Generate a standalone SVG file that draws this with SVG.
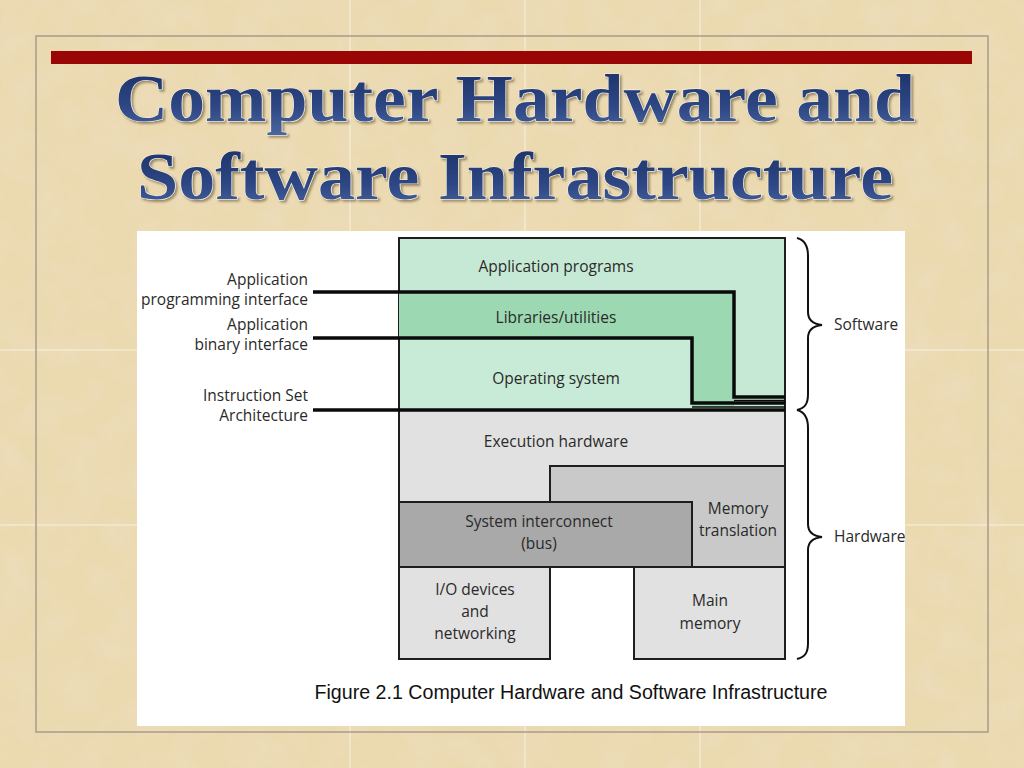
<svg xmlns="http://www.w3.org/2000/svg" width="1024" height="768" viewBox="0 0 1024 768">
<defs>
<filter id="paper" x="0" y="0" width="100%" height="100%">
<feTurbulence type="fractalNoise" baseFrequency="0.03" numOctaves="4" seed="3" result="n"/>
<feColorMatrix in="n" type="matrix" values="0 0 0 0 0.85  0 0 0 0 0.76  0 0 0 0 0.58  0 0 0 1.2 -0.45"/>
</filter>
<filter id="tshadow" x="-5%" y="-20%" width="110%" height="140%">
<feDropShadow dx="2" dy="2" stdDeviation="1" flood-color="#4a3c24" flood-opacity="0.5"/>
</filter>
<linearGradient id="tg" x1="0" y1="0" x2="0" y2="1">
<stop offset="0" stop-color="#1b2e62"/>
<stop offset="0.6" stop-color="#2d4683"/>
<stop offset="1" stop-color="#4a67a0"/>
</linearGradient>
<clipPath id="panelClip"><rect x="137" y="231" width="768" height="495"/></clipPath>
<style>
.title{font-family:"Liberation Serif","DejaVu Serif",serif;font-weight:bold;font-size:68px;text-anchor:middle;fill:url(#tg);stroke:#f4efe2;stroke-width:1.2;paint-order:stroke}
.lbl{font-family:"Open Sans","Noto Sans","DejaVu Sans",sans-serif;font-size:15.5px;fill:#2a2a2a}
.mid{text-anchor:middle}
.end{text-anchor:end}
.box{stroke:#1e1e1e;stroke-width:2}
.iface{fill:none;stroke:#0a0a0a;stroke-width:3.5}
.thin{fill:none;stroke:#0a0a0a;stroke-width:1.3}
.brace{fill:none;stroke:#111;stroke-width:2}
.seam{stroke:#f8f1e0;stroke-width:1}
</style>
</defs>
<!-- background -->
<rect x="0" y="0" width="1024" height="768" fill="#ebd9b0"/>
<rect x="0" y="0" width="1024" height="768" filter="url(#paper)" opacity="0.6"/>
<g id="seams">
<line class="seam" x1="350" y1="0" x2="350" y2="768"/>
<line class="seam" x1="525" y1="0" x2="525" y2="768"/>
<line class="seam" x1="700" y1="0" x2="700" y2="768"/>
<line class="seam" x1="0" y1="350" x2="1024" y2="350"/>
<line class="seam" x1="0" y1="525" x2="1024" y2="525"/>
</g>
<rect x="36" y="36" width="952" height="696" fill="none" stroke="#a89b8b" stroke-width="1.5"/>
<rect x="51" y="51" width="921" height="13" fill="#9a0606"/>
<!-- title -->
<g id="title" filter="url(#tshadow)">
<text class="title" x="515" y="121" textLength="800" lengthAdjust="spacingAndGlyphs">Computer Hardware and</text>
<text class="title" x="515" y="199" textLength="756" lengthAdjust="spacingAndGlyphs">Software Infrastructure</text>
</g>
<!-- figure panel -->
<rect x="137" y="231" width="768" height="495" fill="#ffffff"/>
<g clip-path="url(#panelClip)">
<g id="software">
<g id="app-programs">
<rect class="box" x="399" y="238" width="386" height="172" fill="#c6e9d5"/>
<text class="lbl mid" x="556" y="272">Application programs</text>
</g>
<g id="libraries">
<polygon points="399,292 734,292 734,407 692,407 692,338 399,338" fill="#9cd8b1"/>
<text class="lbl mid" x="556" y="323">Libraries/utilities</text>
</g>
<g id="os">
<rect x="400" y="338" width="292" height="71" fill="#c8ebd7"/>
<text class="lbl mid" x="556" y="384">Operating system</text>
</g>
</g>
<g id="hardware">
<g id="exec-hw">
<rect class="box" x="399" y="410" width="386" height="157" fill="#e1e1e1"/>
<text class="lbl mid" x="556" y="447">Execution hardware</text>
</g>
<g id="mem-translation">
<rect class="box" x="550" y="466" width="235" height="101" fill="#c9c9c9"/>
<text class="lbl mid" x="738" y="514">Memory</text>
<text class="lbl mid" x="738" y="536">translation</text>
</g>
<g id="bus">
<rect class="box" x="399" y="502" width="293" height="65" fill="#a9a9a9"/>
<text class="lbl mid" x="539" y="527">System interconnect</text>
<text class="lbl mid" x="539" y="549">(bus)</text>
</g>
<g id="io-devices">
<rect class="box" x="399" y="567" width="151" height="92" fill="#e1e1e1"/>
<text class="lbl mid" x="475" y="595">I/O devices</text>
<text class="lbl mid" x="475" y="617">and</text>
<text class="lbl mid" x="475" y="639">networking</text>
</g>
<g id="main-memory">
<rect class="box" x="634" y="567" width="151" height="92" fill="#e1e1e1"/>
<text class="lbl mid" x="710" y="606">Main</text>
<text class="lbl mid" x="710" y="629">memory</text>
</g>
</g>
<g id="connectors">
<path class="iface" d="M313,292 H734 V397 H785"/>
<path class="iface" d="M313,338 H692 V403 H785"/>
<path class="iface" d="M313,410 H785"/>
<path class="thin" d="M734,400.5 H785"/>
<path class="thin" d="M692,407 H785"/>
<path class="brace" d="M797,238 C805,240 808,246 808,256 V312 C808,320 813,324 822,325 C813,326 808,330 808,338 V394 C808,404 805,408 797,410"/>
<path class="brace" d="M797,410 C805,412 808,418 808,428 V524 C808,532 813,536 822,537 C813,538 808,542 808,550 V643 C808,653 805,657 797,659"/>
</g>
<g id="labels">
<text class="lbl end" x="308" y="285" font-size="14.5">Application</text>
<text class="lbl end" x="308" y="305" font-size="14.5">programming interface</text>
<text class="lbl end" x="308" y="330" font-size="14.5">Application</text>
<text class="lbl end" x="308" y="350" font-size="14.5">binary interface</text>
<text class="lbl end" x="308" y="401" font-size="14.5">Instruction Set</text>
<text class="lbl end" x="308" y="421" font-size="14.5">Architecture</text>
<text class="lbl" x="834" y="330">Software</text>
<text class="lbl" x="834" y="542">Hardware</text>
</g>
<text x="571" y="699" text-anchor="middle" font-family="Liberation Sans, Arial, sans-serif" font-size="19.5" fill="#111" textLength="513" lengthAdjust="spacingAndGlyphs">Figure 2.1 Computer Hardware and Software Infrastructure</text>
</g>
</svg>
